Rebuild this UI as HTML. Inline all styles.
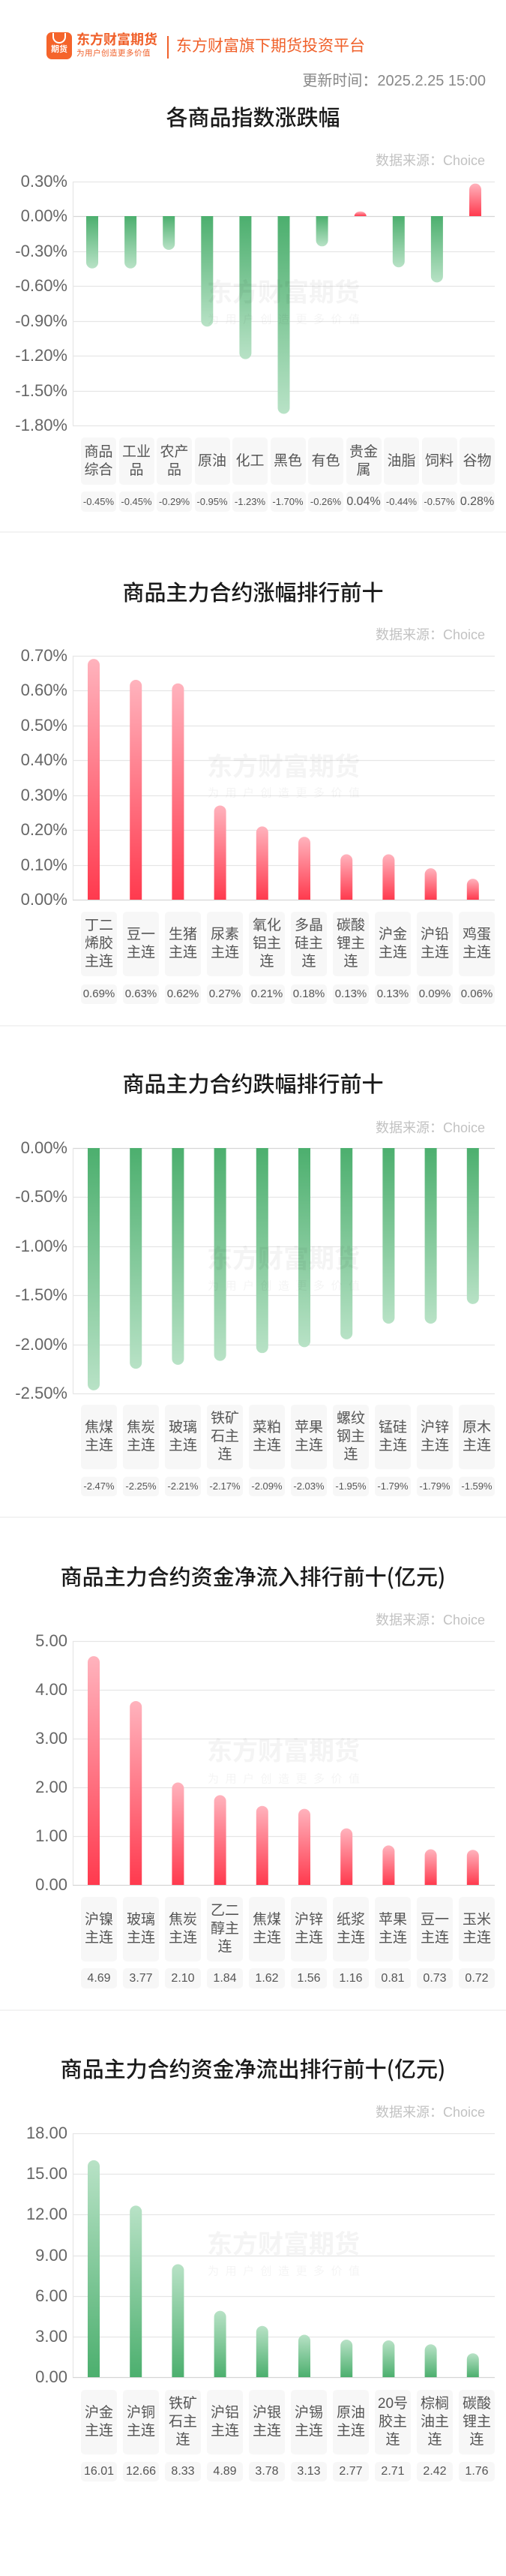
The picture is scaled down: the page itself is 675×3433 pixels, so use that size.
<!DOCTYPE html>
<html><head><meta charset="utf-8">
<style>
*{margin:0;padding:0;box-sizing:border-box}
body{width:675px;height:3433px;background:#fff;position:relative;overflow:hidden;font-family:"Liberation Sans","Noto Sans CJK SC",sans-serif}
.a{position:absolute;white-space:nowrap}
.title{position:absolute;left:0;width:675px;text-align:center;font-size:29px;color:#1a1a1a;transform:translateY(-50%);font-family:"Noto Sans CJK SC",sans-serif;font-weight:500}
.src{position:absolute;right:28px;font-size:18px;color:#c2c2c2;transform:translateY(-50%)}
.yl{position:absolute;right:585px;font-size:22px;color:#666;transform:translateY(-50%);white-space:nowrap}
.row{position:absolute;left:108px;width:552px;display:flex;justify-content:space-between}
.row div{background:#f7f7f7;border-radius:5px;display:flex;align-items:center;justify-content:center;text-align:center;color:#555;line-height:24px;font-size:19px}
.r11 div{width:47px}.r10 div{width:48px}
.vrow div{color:#555;white-space:nowrap}
.div{position:absolute;left:0;width:675px;height:2px;background:#f3f3f3}
.wm{position:absolute;left:276px;color:rgba(0,0,0,0.045);font-size:34px;font-weight:bold;transform:translateY(-50%);white-space:nowrap}
.wm2{position:absolute;left:277px;color:rgba(0,0,0,0.045);font-size:15px;letter-spacing:8.5px;transform:translateY(-50%);white-space:nowrap}
</style></head><body>
<svg id="g" width="675" height="3433" style="position:absolute;left:0;top:0">
<defs>
<linearGradient id="red" x1="0" y1="0" x2="0" y2="1"><stop offset="0" stop-color="#ffb3bd"/><stop offset="1" stop-color="#ff3a4e"/></linearGradient>
<linearGradient id="gpos" x1="0" y1="0" x2="0" y2="1"><stop offset="0" stop-color="#b8e2c6"/><stop offset="1" stop-color="#4caf6e"/></linearGradient>
<linearGradient id="gneg" x1="0" y1="0" x2="0" y2="1"><stop offset="0" stop-color="#4caf6e"/><stop offset="1" stop-color="#b8e2c6"/></linearGradient>
</defs>
</svg>

<!-- header -->
<div class="a" style="left:62px;top:43px;width:34px;height:36px;background:#f5642b;border-radius:7px"></div>
<div class="a" style="left:70px;top:44px;width:18px;height:14px;border:2px solid #fff;border-top:none;border-radius:0 0 10px 10px"></div>
<div class="a" style="left:63px;top:58px;width:32px;text-align:center;font-size:11px;color:#fff;font-weight:bold;line-height:16px">期货</div>
<div class="a" style="left:102px;top:42px;font-size:18px;font-weight:bold;color:#f0602a;line-height:22px;letter-spacing:0px">东方财富期货</div>
<div class="a" style="left:102px;top:65px;font-size:10.5px;color:#f0602a;line-height:13px;letter-spacing:0.5px">为用户创造更多价值</div>
<div class="a" style="left:223px;top:48px;width:2px;height:30px;background:#f0602a"></div>
<div class="a" style="left:235px;top:49px;font-size:21px;color:#f0602a;line-height:26px">东方财富旗下期货投资平台</div>
<div class="a" style="right:27px;top:96px;font-size:20px;color:#888;line-height:24px">更新时间：2025.2.25 15:00</div>

<!-- chart 1 -->
<div class="title" style="top:155px">各商品指数涨跌幅</div>
<div class="src" style="top:213px">数据来源：Choice</div>
<div class="yl" style="top:242px">0.30%</div>
<div class="yl" style="top:288px">0.00%</div>
<div class="yl" style="top:335px">-0.30%</div>
<div class="yl" style="top:381px">-0.60%</div>
<div class="yl" style="top:428px">-0.90%</div>
<div class="yl" style="top:474px">-1.20%</div>
<div class="yl" style="top:521px">-1.50%</div>
<div class="yl" style="top:567px">-1.80%</div>
<div class="wm" style="top:387px">东方财富期货</div>
<div class="wm2" style="top:425px">为用户创造更多价值</div>
<div class="row r11" style="top:583px;height:63px">
<div>商品<br>综合</div><div>工业<br>品</div><div>农产<br>品</div><div>原油</div><div>化工</div><div>黑色</div><div>有色</div><div>贵金<br>属</div><div>油脂</div><div>饲料</div><div>谷物</div>
</div>
<div class="row r11 vrow" style="top:655px;height:27px">
<div style="font-size:13px">-0.45%</div><div style="font-size:13px">-0.45%</div><div style="font-size:13px">-0.29%</div><div style="font-size:13px">-0.95%</div><div style="font-size:13px">-1.23%</div><div style="font-size:13px">-1.70%</div><div style="font-size:13px">-0.26%</div><div style="font-size:16px">0.04%</div><div style="font-size:13px">-0.44%</div><div style="font-size:13px">-0.57%</div><div style="font-size:16px">0.28%</div>
</div>
<div class="div" style="top:708px"></div>

<!-- chart 2 -->
<div class="title" style="top:788px">商品主力合约涨幅排行前十</div>
<div class="src" style="top:845px">数据来源：Choice</div>
<div class="yl" style="top:874px">0.70%</div>
<div class="yl" style="top:920px">0.60%</div>
<div class="yl" style="top:967px">0.50%</div>
<div class="yl" style="top:1013px">0.40%</div>
<div class="yl" style="top:1060px">0.30%</div>
<div class="yl" style="top:1106px">0.20%</div>
<div class="yl" style="top:1153px">0.10%</div>
<div class="yl" style="top:1199px">0.00%</div>
<div class="wm" style="top:1019px">东方财富期货</div>
<div class="wm2" style="top:1056px">为用户创造更多价值</div>
<div class="row r10" style="top:1215px;height:86px">
<div>丁二<br>烯胶<br>主连</div><div>豆一<br>主连</div><div>生猪<br>主连</div><div>尿素<br>主连</div><div>氧化<br>铝主<br>连</div><div>多晶<br>硅主<br>连</div><div>碳酸<br>锂主<br>连</div><div>沪金<br>主连</div><div>沪铅<br>主连</div><div>鸡蛋<br>主连</div>
</div>
<div class="row r10 vrow" style="top:1312px;height:26px;font-size:15px">
<div style="font-size:15px">0.69%</div><div style="font-size:15px">0.63%</div><div style="font-size:15px">0.62%</div><div style="font-size:15px">0.27%</div><div style="font-size:15px">0.21%</div><div style="font-size:15px">0.18%</div><div style="font-size:15px">0.13%</div><div style="font-size:15px">0.13%</div><div style="font-size:15px">0.09%</div><div style="font-size:15px">0.06%</div>
</div>
<div class="div" style="top:1366px"></div>

<!-- chart 3 -->
<div class="title" style="top:1443px">商品主力合约跌幅排行前十</div>
<div class="src" style="top:1502px">数据来源：Choice</div>
<div class="yl" style="top:1530px">0.00%</div>
<div class="yl" style="top:1595px">-0.50%</div>
<div class="yl" style="top:1661px">-1.00%</div>
<div class="yl" style="top:1726px">-1.50%</div>
<div class="yl" style="top:1792px">-2.00%</div>
<div class="yl" style="top:1857px">-2.50%</div>
<div class="wm" style="top:1675px">东方财富期货</div>
<div class="wm2" style="top:1713px">为用户创造更多价值</div>
<div class="row r10" style="top:1872px;height:86px">
<div>焦煤<br>主连</div><div>焦炭<br>主连</div><div>玻璃<br>主连</div><div>铁矿<br>石主<br>连</div><div>菜粕<br>主连</div><div>苹果<br>主连</div><div>螺纹<br>钢主<br>连</div><div>锰硅<br>主连</div><div>沪锌<br>主连</div><div>原木<br>主连</div>
</div>
<div class="row r10 vrow" style="top:1968px;height:26px">
<div style="font-size:13px">-2.47%</div><div style="font-size:13px">-2.25%</div><div style="font-size:13px">-2.21%</div><div style="font-size:13px">-2.17%</div><div style="font-size:13px">-2.09%</div><div style="font-size:13px">-2.03%</div><div style="font-size:13px">-1.95%</div><div style="font-size:13px">-1.79%</div><div style="font-size:13px">-1.79%</div><div style="font-size:13px">-1.59%</div>
</div>
<div class="div" style="top:2021px"></div>

<!-- chart 4 -->
<div class="title" style="top:2100px">商品主力合约资金净流入排行前十(亿元)</div>
<div class="src" style="top:2158px">数据来源：Choice</div>
<div class="yl" style="top:2187px">5.00</div>
<div class="yl" style="top:2252px">4.00</div>
<div class="yl" style="top:2317px">3.00</div>
<div class="yl" style="top:2382px">2.00</div>
<div class="yl" style="top:2447px">1.00</div>
<div class="yl" style="top:2512px">0.00</div>
<div class="wm" style="top:2331px">东方财富期货</div>
<div class="wm2" style="top:2370px">为用户创造更多价值</div>
<div class="row r10" style="top:2528px;height:86px">
<div>沪镍<br>主连</div><div>玻璃<br>主连</div><div>焦炭<br>主连</div><div>乙二<br>醇主<br>连</div><div>焦煤<br>主连</div><div>沪锌<br>主连</div><div>纸浆<br>主连</div><div>苹果<br>主连</div><div>豆一<br>主连</div><div>玉米<br>主连</div>
</div>
<div class="row r10 vrow" style="top:2623px;height:27px">
<div style="font-size:16px">4.69</div><div style="font-size:16px">3.77</div><div style="font-size:16px">2.10</div><div style="font-size:16px">1.84</div><div style="font-size:16px">1.62</div><div style="font-size:16px">1.56</div><div style="font-size:16px">1.16</div><div style="font-size:16px">0.81</div><div style="font-size:16px">0.73</div><div style="font-size:16px">0.72</div>
</div>
<div class="div" style="top:2678px"></div>

<!-- chart 5 -->
<div class="title" style="top:2756px">商品主力合约资金净流出排行前十(亿元)</div>
<div class="src" style="top:2814px">数据来源：Choice</div>
<div class="yl" style="top:2843px">18.00</div>
<div class="yl" style="top:2897px">15.00</div>
<div class="yl" style="top:2951px">12.00</div>
<div class="yl" style="top:3006px">9.00</div>
<div class="yl" style="top:3060px">6.00</div>
<div class="yl" style="top:3114px">3.00</div>
<div class="yl" style="top:3168px">0.00</div>
<div class="wm" style="top:2988px">东方财富期货</div>
<div class="wm2" style="top:3026px">为用户创造更多价值</div>
<div class="row r10" style="top:3185px;height:86px">
<div>沪金<br>主连</div><div>沪铜<br>主连</div><div>铁矿<br>石主<br>连</div><div>沪铝<br>主连</div><div>沪银<br>主连</div><div>沪锡<br>主连</div><div>原油<br>主连</div><div>20号<br>胶主<br>连</div><div>棕榈<br>油主<br>连</div><div>碳酸<br>锂主<br>连</div>
</div>
<div class="row r10 vrow" style="top:3281px;height:26px">
<div style="font-size:16px">16.01</div><div style="font-size:16px">12.66</div><div style="font-size:16px">8.33</div><div style="font-size:16px">4.89</div><div style="font-size:16px">3.78</div><div style="font-size:16px">3.13</div><div style="font-size:16px">2.77</div><div style="font-size:16px">2.71</div><div style="font-size:16px">2.42</div><div style="font-size:16px">1.76</div>
</div>

<script>
(function(){
var svg=document.getElementById('g'),NS='http://www.w3.org/2000/svg';
function el(n,a){var e=document.createElementNS(NS,n);for(var k in a)e.setAttribute(k,a[k]);svg.appendChild(e);return e;}
var charts=[
 {z:288,k:155,c0:123,s:51.1,top:242,step:46.43,n:8,v:[-0.45,-0.45,-0.29,-0.95,-1.23,-1.70,-0.26,0.04,-0.44,-0.57,0.28],mode:'sign'},
 {z:1199,k:465,c0:125,s:56.2,top:874,step:46.43,n:8,v:[0.69,0.63,0.62,0.27,0.21,0.18,0.13,0.13,0.09,0.06],mode:'red'},
 {z:1530,k:130.7,c0:125,s:56.2,top:1530,step:65.4,n:6,v:[-2.47,-2.25,-2.21,-2.17,-2.09,-2.03,-1.95,-1.79,-1.79,-1.59],mode:'sign'},
 {z:2512,k:65,c0:125,s:56.2,top:2187,step:65,n:6,v:[4.69,3.77,2.10,1.84,1.62,1.56,1.16,0.81,0.73,0.72],mode:'red'},
 {z:3168,k:18.06,c0:125,s:56.2,top:2843,step:54.17,n:7,v:[16.01,12.66,8.33,4.89,3.78,3.13,2.77,2.71,2.42,1.76],mode:'gpos'}
];
charts.forEach(function(c){
 var bot=c.top+c.step*(c.n-1);
 for(var i=0;i<c.n;i++){var y=Math.round(c.top+c.step*i)+0.5;
  el('line',{x1:97,x2:660,y1:y,y2:y,stroke:(Math.abs(y-c.z)<2)?'#d6d6d6':'#e6e6e6','stroke-width':1.2});}
 el('line',{x1:97.5,x2:97.5,y1:c.top,y2:bot,stroke:'#e6e6e6','stroke-width':1.2});
 c.v.forEach(function(v,i){
  var cx=c.c0+c.s*i,x0=cx-8,x1=cx+8,h=Math.abs(v)*c.k,d,fill;
  if(v>0){var yt=c.z-h;
   if(h>8)d='M'+x0+' '+c.z+' V'+(yt+8)+' A8 8 0 0 1 '+x1+' '+(yt+8)+' V'+c.z+' Z';
   else d='M'+x0+' '+c.z+' A8 '+h+' 0 0 1 '+x1+' '+c.z+' Z';
   fill=(c.mode==='gpos')?'url(#gpos)':'url(#red)';
  }else{var yb=c.z+h;
   d='M'+x0+' '+c.z+' V'+(yb-8)+' A8 8 0 0 0 '+x1+' '+(yb-8)+' V'+c.z+' Z';
   fill='url(#gneg)';}
  el('path',{d:d,fill:fill});
 });
});
})();
</script>
</body></html>
